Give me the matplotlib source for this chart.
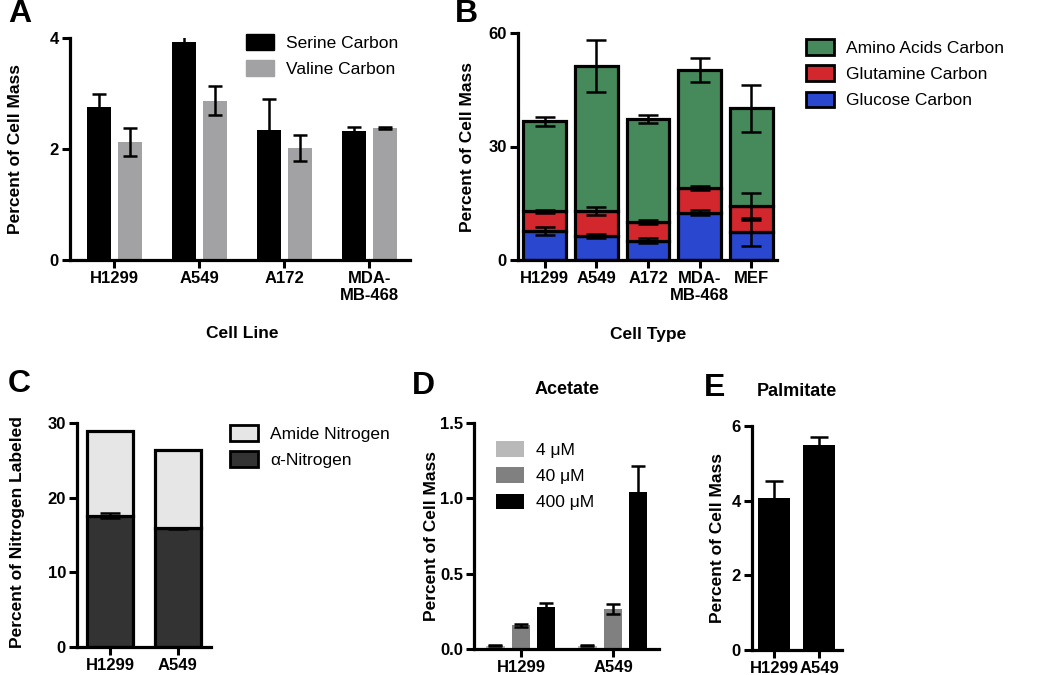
import matplotlib
matplotlib.use("Agg")
import matplotlib.pyplot as plt
import numpy as np
from matplotlib.patches import Patch

plt.rcParams["font.family"] = ["Liberation Sans", "DejaVu Sans"]

# A: серин / валин
cells_a = ["H1299", "A549", "A172", "MDA-\nMB-468"]
serine = [2.75, 3.93, 2.35, 2.33]
serine_err = [0.25, 0.12, 0.55, 0.07]
valine = [2.13, 2.87, 2.02, 2.38]
valine_err = [0.25, 0.26, 0.23, 0.02]

# B: кумулятивные уровни
cells_b = ["H1299", "A549", "A172", "MDA-\nMB-468", "MEF"]
glucose_top = [7.6, 6.4, 5.1, 12.5, 7.4]
glucose_err = [1.0, 0.5, 0.6, 0.6, 3.8]
glutamine_top = [12.9, 12.9, 10.0, 19.0, 14.2]
glutamine_err = [0.4, 1.0, 0.6, 0.6, 3.5]
total_top = [36.7, 51.3, 37.2, 50.2, 40.1]
total_err = [1.2, 6.9, 1.1, 3.1, 6.2]

# C: азот
cells_c = ["H1299", "A549"]
alpha_n = [17.6, 15.9]
alpha_err = [0.3, 0.05]
total_n = [28.9, 26.4]

# D: ацетат
cells_d = ["H1299", "A549"]
acet_labels = ["4 μM", "40 μM", "400 μM"]
acet = [[0.022, 0.022], [0.157, 0.265], [0.28, 1.045]]
acet_err = [[0.004, 0.004], [0.01, 0.035], [0.025, 0.17]]

# E: пальмитат
cells_e = ["H1299", "A549"]
palm = [4.06, 5.48]
palm_err = [0.47, 0.22]

W, H = 1050, 675
fig = plt.figure(figsize=(10.5, 6.75), dpi=100)


def px_axes(x0, x1, y_top, y_bot):
    return fig.add_axes([x0 / W, 1 - y_bot / H, (x1 - x0) / W, (y_bot - y_top) / H])


def style(ax):
    for s in ["top", "right"]:
        ax.spines[s].set_visible(False)
    for s in ["left", "bottom"]:
        ax.spines[s].set_linewidth(2.3)
    ax.tick_params(width=2.2, length=6, labelsize=12, pad=2)
    for t in ax.get_xticklabels() + ax.get_yticklabels():
        t.set_fontweight("bold")


def ylab(ax, text, xpx, ypx):
    ax.set_ylabel(text, fontsize=12.5, fontweight="bold", va="center")
    ax.yaxis.set_label_coords(xpx / W, 1 - ypx / H, transform=fig.transFigure)


def xlab(ax, text, xpx, ypx):
    ax.set_xlabel(text, fontsize=12.5, fontweight="bold", va="center")
    ax.xaxis.set_label_coords(xpx / W, 1 - ypx / H, transform=fig.transFigure)


def ftext(text, xpx, ypx, size, ha="center"):
    fig.text(xpx / W, 1 - ypx / H, text, fontsize=size, fontweight="bold",
             ha=ha, va="center")


ek = dict(fmt="none", ecolor="black", elinewidth=1.8, capthick=1.8, zorder=4)
lk = dict(loc="upper left", bbox_transform=fig.transFigure, frameon=False,
          fontsize=12.5, borderpad=0, borderaxespad=0, handlelength=1.6,
          handleheight=1.0, handletextpad=0.7, labelspacing=0.55)

# ---- A
ax = px_axes(70, 410, 38, 260)
x = np.arange(len(cells_a))
ax.bar(x - 0.18, serine, 0.28, color="black", zorder=2)
ax.bar(x + 0.19, valine, 0.28, color="#a2a2a4", zorder=2)
ax.errorbar(x - 0.18, serine, yerr=serine_err, capsize=4.7, **ek)
ax.errorbar(x + 0.19, valine, yerr=valine_err, capsize=4.7, **ek)
ax.set_xlim(-0.52, 3.48)
ax.set_ylim(0, 4)
ax.set_yticks([0, 2, 4])
ax.set_xticks(x)
ax.set_xticklabels(cells_a, linespacing=1.15)
style(ax)
ylab(ax, "Percent of Cell Mass", 16, 149)
xlab(ax, "Cell Line", 242, 334)
ax.legend(handles=[Patch(color="black", label="Serine Carbon"),
                   Patch(color="#a2a2a4", label="Valine Carbon")],
          bbox_to_anchor=(246 / W, 1 - 34 / H), **lk)
ftext("A", 8, 14, 23, ha="left")

# ---- B
ax = px_axes(518, 777, 33, 260)
x = np.arange(len(cells_b))
green, red, blue = "#468a5b", "#d2282d", "#2a47cf"
glut_seg = [g - c for g, c in zip(glutamine_top, glucose_top)]
amino_seg = [t - g for t, g in zip(total_top, glutamine_top)]
bk = dict(width=0.83, edgecolor="black", linewidth=2.3, zorder=2)
ax.bar(x, glucose_top, color=blue, **bk)
ax.bar(x, glut_seg, bottom=glucose_top, color=red, **bk)
ax.bar(x, amino_seg, bottom=glutamine_top, color=green, **bk)
ax.errorbar(x, glucose_top, yerr=glucose_err, capsize=7.5, **ek)
ax.errorbar(x, glutamine_top, yerr=glutamine_err, capsize=7.5, **ek)
ax.errorbar(x, total_top, yerr=total_err, capsize=7.5, **ek)
ax.set_xlim(-0.52, 4.5)
ax.set_ylim(0, 60)
ax.set_yticks([0, 30, 60])
ax.set_xticks(x)
ax.set_xticklabels(cells_b, linespacing=1.15)
style(ax)
ylab(ax, "Percent of Cell Mass", 468, 147)
xlab(ax, "Cell Type", 648, 334)
ax.legend(handles=[Patch(facecolor=green, edgecolor="black", linewidth=2, label="Amino Acids Carbon"),
                   Patch(facecolor=red, edgecolor="black", linewidth=2, label="Glutamine Carbon"),
                   Patch(facecolor=blue, edgecolor="black", linewidth=2, label="Glucose Carbon")],
          bbox_to_anchor=(806 / W, 1 - 39 / H), **lk)
ftext("B", 455, 14, 23, ha="left")

# ---- C
ax = px_axes(77, 211, 423, 647)
x = np.arange(len(cells_c))
amide_seg = [t - a for t, a in zip(total_n, alpha_n)]
ck = dict(width=0.68, edgecolor="black", linewidth=2.3, zorder=2)
ax.bar(x, alpha_n, color="#333333", **ck)
ax.bar(x, amide_seg, bottom=alpha_n, color="#e6e6e6", **ck)
ax.errorbar(x, alpha_n, yerr=alpha_err, capsize=7, **ek)
ax.set_xlim(-0.49, 1.49)
ax.set_ylim(0, 30)
ax.set_yticks([0, 10, 20, 30])
ax.set_xticks(x)
ax.set_xticklabels(cells_c)
style(ax)
ylab(ax, "Percent of Nitrogen Labeled", 18, 532)
ax.legend(handles=[Patch(facecolor="#e6e6e6", edgecolor="black", linewidth=2, label="Amide Nitrogen"),
                   Patch(facecolor="#333333", edgecolor="black", linewidth=2, label="α-Nitrogen")],
          bbox_to_anchor=(230 / W, 1 - 425 / H), **lk)
ftext("C", 8, 384, 23, ha="left")

# ---- D
ax = px_axes(474, 659, 423, 649)
x = np.arange(len(cells_d))
acet_colors = ["#b9b9b9", "#808080", "black"]
offs = [-0.277, 0.0, 0.27]
for vals, errs, col, off, lab in zip(acet, acet_err, acet_colors, offs, acet_labels):
    ax.bar(x + off, vals, 0.2, color=col, zorder=2, label=lab)
    ax.errorbar(x + off, vals, yerr=errs, capsize=4.7, **ek)
ax.set_xlim(-0.51, 1.5)
ax.set_ylim(0, 1.5)
ax.set_yticks([0, 0.5, 1.0, 1.5])
ax.set_yticklabels(["0.0", "0.5", "1.0", "1.5"])
ax.set_xticks(x)
ax.set_xticklabels(cells_d)
style(ax)
ylab(ax, "Percent of Cell Mass", 432, 536)
ax.legend(bbox_to_anchor=(496 / W, 1 - 441 / H), **lk)
ftext("Acetate", 567, 390, 13)
ftext("D", 412, 386, 23, ha="left")

# ---- E
ax = px_axes(752, 842, 426, 650)
x = np.arange(len(cells_e))
ax.bar(x, palm, 0.71, color="black", zorder=2)
ax.errorbar(x, palm, yerr=palm_err, capsize=6.5, **ek)
ax.set_xlim(-0.49, 1.51)
ax.set_ylim(0, 6)
ax.set_yticks([0, 2, 4, 6])
ax.set_xticks(x)
ax.set_xticklabels(cells_e)
style(ax)
ylab(ax, "Percent of Cell Mass", 717, 538)
ftext("Palmitate", 797, 392, 13)
ftext("E", 704, 388, 23, ha="left")

fig.savefig("out.png", dpi=100)
